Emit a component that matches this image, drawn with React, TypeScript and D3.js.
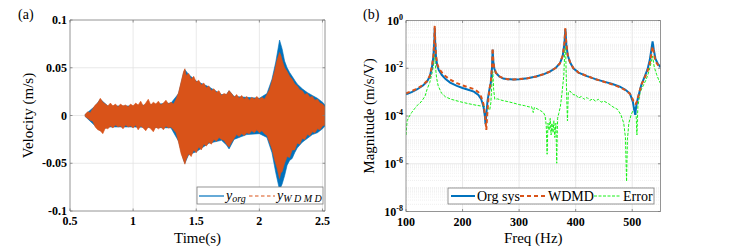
import React from "react";
import * as d3 from "d3";

// ---------- Panel (a): time response envelopes ----------
const timeWdmd = [0.62,0.64,0.66,0.68,0.70,0.72,0.74,0.76,0.78,0.80,0.82,0.84,0.86,0.88,0.90,0.92,0.94,0.96,0.98,1.00,1.02,1.04,1.06,1.08,1.10,1.12,1.14,1.16,1.18,1.20,1.22,1.24,1.26,1.28,1.30,1.32,1.34,1.36,1.38,1.40,1.41,1.42,1.44,1.46,1.48,1.50,1.52,1.54,1.56,1.58,1.60,1.62,1.64,1.66,1.68,1.70,1.72,1.74,1.76,1.78,1.80,1.82,1.84,1.86,1.88,1.90,1.92,1.94,1.96,1.98,2.00,2.02,2.04,2.06,2.08,2.10,2.12,2.14,2.16,2.17,2.18,2.20,2.22,2.24,2.26,2.28,2.30,2.32,2.34,2.36,2.38,2.40,2.42,2.44,2.46,2.48,2.50,2.52];
const wdmdUpper = [0.001,0.004,0.003,0.007,0.011,0.013,0.018,0.014,0.012,0.010,0.013,0.010,0.012,0.009,0.012,0.010,0.011,0.009,0.012,0.010,0.013,0.011,0.015,0.010,0.013,0.017,0.011,0.014,0.012,0.015,0.011,0.013,0.016,0.012,0.014,0.012,0.017,0.024,0.035,0.046,0.049,0.042,0.044,0.038,0.041,0.035,0.037,0.032,0.034,0.029,0.031,0.026,0.028,0.024,0.026,0.021,0.023,0.022,0.026,0.023,0.019,0.022,0.018,0.021,0.017,0.020,0.016,0.019,0.017,0.020,0.017,0.019,0.017,0.022,0.027,0.036,0.046,0.058,0.066,0.063,0.058,0.050,0.046,0.041,0.038,0.033,0.031,0.027,0.026,0.022,0.023,0.019,0.020,0.016,0.017,0.013,0.012,0.009];
const wdmdLower = [-0.001,-0.003,-0.005,-0.006,-0.012,-0.015,-0.016,-0.019,-0.013,-0.014,-0.011,-0.013,-0.010,-0.012,-0.011,-0.014,-0.010,-0.012,-0.011,-0.013,-0.010,-0.015,-0.011,-0.013,-0.016,-0.012,-0.014,-0.017,-0.012,-0.014,-0.012,-0.015,-0.011,-0.013,-0.012,-0.015,-0.018,-0.028,-0.040,-0.047,-0.051,-0.046,-0.040,-0.043,-0.036,-0.039,-0.033,-0.036,-0.030,-0.032,-0.028,-0.030,-0.025,-0.027,-0.023,-0.025,-0.026,-0.030,-0.033,-0.028,-0.024,-0.020,-0.022,-0.019,-0.021,-0.018,-0.019,-0.016,-0.018,-0.015,-0.018,-0.016,-0.019,-0.021,-0.028,-0.035,-0.046,-0.055,-0.066,-0.060,-0.059,-0.050,-0.043,-0.044,-0.036,-0.036,-0.029,-0.030,-0.024,-0.025,-0.020,-0.021,-0.017,-0.018,-0.014,-0.015,-0.011,-0.010];
const timeOrg = [0.62,0.70,0.74,0.80,1.00,1.30,1.36,1.40,1.41,1.44,1.50,1.60,1.70,1.74,1.76,1.80,1.90,2.00,2.06,2.10,2.13,2.16,2.18,2.20,2.22,2.24,2.26,2.28,2.30,2.34,2.38,2.42,2.46,2.50,2.52];
const orgUpper = [0.001,0.010,0.017,0.010,0.010,0.013,0.023,0.045,0.048,0.043,0.036,0.030,0.022,0.022,0.026,0.020,0.019,0.018,0.023,0.038,0.056,0.079,0.070,0.057,0.050,0.045,0.041,0.037,0.033,0.028,0.024,0.021,0.018,0.014,0.011];
const orgLower = [-0.001,-0.011,-0.016,-0.012,-0.012,-0.013,-0.027,-0.047,-0.050,-0.041,-0.038,-0.029,-0.026,-0.031,-0.035,-0.025,-0.020,-0.019,-0.023,-0.039,-0.060,-0.078,-0.072,-0.063,-0.052,-0.047,-0.045,-0.039,-0.034,-0.028,-0.024,-0.020,-0.018,-0.014,-0.011];
const timeTicks = [0.5, 1, 1.5, 2, 2.5];
const velTicks = [-0.1, -0.05, 0, 0.05, 0.1];

// ---------- Panel (b): FRF magnitudes ----------
const freqOrg = [100,110,120,130,137,142,146,148.5,150,150.8,151.6,153,155,158,163.5,170,178,190,200,210,220,228,233,237,239.5,240.6,241.8,244,247,250,252,253.2,254.3,256,259,265,272,280,290,300,315,330,345,355,365,372,377,380,381.8,383.5,386,390,396,405,420,435,450,465,478,488,496,501,504,505.3,507,510,516,522,527,531,534,536,538,541,545,550];
const magOrg = [8.1e-4,1.0e-3,1.32e-3,1.9e-3,2.75e-3,4.5e-3,1.12e-2,3.2e-2,1.26e-1,5.0e-1,1.26e-1,3.2e-2,1.38e-2,8.3e-3,5.2e-3,3.5e-3,2.5e-3,1.82e-3,1.48e-3,1.26e-3,1.05e-3,7.6e-4,5.0e-4,2.5e-4,1.0e-4,4.5e-5,1.0e-4,4.0e-4,1.12e-3,2.5e-3,1.0e-2,6.0e-2,2.0e-2,1.0e-2,6.3e-3,4.5e-3,3.7e-3,3.5e-3,3.4e-3,3.5e-3,3.8e-3,4.5e-3,5.8e-3,7.4e-3,1.05e-2,1.58e-2,3.2e-2,1.0e-1,4.4e-1,1.0e-1,3.5e-2,1.78e-2,1.0e-2,6.6e-3,4.7e-3,3.5e-3,2.75e-3,2.2e-3,1.7e-3,1.26e-3,8.7e-4,4.0e-4,1.6e-4,1.12e-4,2.5e-4,5.6e-4,2.0e-3,4.5e-3,8.9e-3,2.2e-2,6.3e-2,1.32e-1,6.3e-2,2.5e-2,1.58e-2,1.12e-2];
const freqWdmd = [100,110,120,130,137,142,146,148.5,150,150.8,151.6,153,155,158,163.5,170,178,190,200,210,220,228,233,237,240,242,243.5,246,248,250,252,253.2,254.3,256,259,265,272,280,290,300,315,330,345,355,365,372,377,380,381.8,383.5,386,390,396,405,420,435,450,465,478,488,496,501,503,506,508,511,516,522,527,531,534,536,538,541,545,550];
const magWdmd = [8.9e-4,1.1e-3,1.4e-3,2.0e-3,2.9e-3,4.8e-3,1.26e-2,3.5e-2,1.4e-1,6.0e-1,1.4e-1,3.5e-2,1.58e-2,1.0e-2,6.6e-3,4.6e-3,3.3e-3,2.4e-3,1.9e-3,1.6e-3,1.35e-3,1.0e-3,6.3e-4,3.2e-4,1.0e-4,2.6e-5,1.0e-4,6.3e-4,1.5e-3,2.8e-3,1.1e-2,7.0e-2,2.2e-2,1.05e-2,6.5e-3,4.6e-3,3.8e-3,3.5e-3,3.4e-3,3.5e-3,3.8e-3,4.5e-3,5.8e-3,7.4e-3,1.05e-2,1.6e-2,3.3e-2,1.05e-1,4.8e-1,1.05e-1,3.6e-2,1.8e-2,1.0e-2,6.6e-3,4.7e-3,3.5e-3,2.7e-3,2.1e-3,1.6e-3,1.2e-3,8.5e-4,5.0e-4,3.5e-4,3.2e-4,4.0e-4,7.0e-4,2.0e-3,4.0e-3,7.5e-3,1.6e-2,4.0e-2,8.1e-2,4.5e-2,2.0e-2,1.4e-2,1.05e-2];
const freqErr = [100,102,105,110,115,120,125,130,134,137,142,146,148.5,150.8,152,154,157,163,170,180,195,210,225,238,244,248,250,252,253.5,255,257,262,270,280,290,300,310,318,322,325,327,332,338,343,346,348,349.5,351,353,355,356.5,358,360,361.5,363,365,366.5,368,370,373,376,379,381.8,383,384.5,385.5,387,390,393,397,400,405,410,415,420,425,430,435,440,445,450,458,466,474,480,485,488,490,491.5,494,498,502,505,507,508.3,510,514,520,525,530,533,536,539,543,547,550];
const magErr = [1.6e-5,6.3e-5,8.9e-5,1.4e-4,2.0e-4,2.8e-4,3.5e-4,5.0e-4,7.1e-4,1.26e-3,2.5e-3,6.3e-3,1.26e-2,3.8e-2,1.26e-2,4.0e-3,1.8e-3,8.9e-4,6.3e-4,5.0e-4,4.0e-4,3.3e-4,2.8e-4,2.5e-4,2.2e-4,1.8e-4,3.5e-4,2.5e-3,7.2e-3,1.26e-3,5.0e-4,5.2e-4,4.5e-4,4.0e-4,3.5e-4,3.0e-4,2.7e-4,2.4e-4,2.5e-4,1.4e-4,2.3e-4,2.0e-4,1.66e-4,1.4e-4,1.0e-4,4.0e-5,2.5e-6,5.0e-5,2.5e-5,7.9e-5,1.6e-5,5.0e-5,2.0e-5,6.3e-5,1.26e-5,5.0e-5,1.05e-6,7.9e-5,1.26e-4,2.5e-4,1.0e-3,5.0e-3,2.1e-1,1.0e-2,3.2e-4,6.3e-5,1.0e-3,1.12e-3,8.9e-4,7.6e-4,7.9e-4,5.6e-4,6.6e-4,5.0e-4,6.0e-4,4.5e-4,5.2e-4,4.2e-4,5.0e-4,3.8e-4,4.2e-4,3.3e-4,2.4e-4,1.9e-4,1.12e-4,5.0e-5,1.26e-5,1.8e-7,1.0e-5,5.0e-5,1.12e-4,1.8e-4,2.5e-4,1.0e-4,1.6e-5,2.5e-4,1.0e-3,2.0e-3,3.5e-3,7.9e-3,1.6e-2,3.2e-2,1.12e-2,5.6e-3,3.2e-3,2.3e-3];
const freqTicks = [100, 200, 300, 400, 500];
const magTickExps = [0, -2, -4, -6, -8];

const BLUE = "#0072BD";
const ORANGE = "#D95319";
const GREEN = "#18F018";
const FONT = "Liberation Serif";
const AXC = "#7a7a7a";
const GRID = "#e3e3e3";
const ts: React.CSSProperties = { fontFamily: FONT };

export default function App() {
  // panel a
  const ax = { l: 70, r: 325, t: 20, b: 211 };
  const xA = d3.scaleLinear().domain([0.5, 2.52]).range([ax.l, ax.r]);
  const yA = d3.scaleLinear().domain([-0.1, 0.1]).range([ax.b, ax.t]);
  const areaOrg = d3.area<number>().x(i => xA(timeOrg[i])).y0(i => yA(orgLower[i])).y1(i => yA(orgUpper[i]));
  const areaWdmd = d3.area<number>().x(i => xA(timeWdmd[i])).y0(i => yA(wdmdLower[i])).y1(i => yA(wdmdUpper[i]));

  // panel b
  const bx = { l: 406, r: 660.5, t: 20.5, b: 211.5 };
  const xB = d3.scaleLinear().domain([100, 550]).range([bx.l, bx.r]);
  const yB = d3.scaleLog().domain([1e-8, 1]).range([bx.b, bx.t]);
  const lineB = (fs: number[], ms: number[]) =>
    d3.line<number>().x(i => xB(fs[i])).y(i => yB(ms[i]))(d3.range(fs.length)) || "";
  const minorB: number[] = [];
  for (let e = -8; e < 0; e++) for (let k = 1; k < 10; k++) {
    const v = k * Math.pow(10, e);
    if (!(k === 1 && e % 2 === 0)) minorB.push(v);
  }

  return (
    <svg width={734} height={248} style={{ position: "absolute", left: 0, top: 0, background: "#fff", fontFamily: FONT }}>
      <defs>
        <clipPath id="clipA"><rect x={ax.l} y={ax.t} width={ax.r - ax.l} height={ax.b - ax.t} /></clipPath>
        <clipPath id="clipB"><rect x={bx.l} y={bx.t} width={bx.r - bx.l} height={bx.b - bx.t} /></clipPath>
      </defs>

      {/* ===== Panel (a) ===== */}
      <text x={18} y={19} fontSize={14} style={ts}>(a)</text>
      {timeTicks.slice(1).map(t => (
        <line key={"gx" + t} x1={xA(t)} x2={xA(t)} y1={ax.t} y2={ax.b} stroke={GRID} strokeWidth={0.8} />
      ))}
      {velTicks.slice(1, -1).map(v => (
        <line key={"gy" + v} x1={ax.l} x2={ax.r} y1={yA(v)} y2={yA(v)} stroke={GRID} strokeWidth={0.8} />
      ))}
      <g clipPath="url(#clipA)">
        <path d={areaOrg(d3.range(timeOrg.length)) || ""} fill={BLUE} stroke={BLUE} strokeWidth={0.6} />
        <path d={areaWdmd(d3.range(timeWdmd.length)) || ""} fill={ORANGE} stroke={ORANGE} strokeWidth={0.6} />
      </g>
      <path d={`M${ax.l},${ax.t}H${ax.r}V${ax.b}H${ax.l}Z`} fill="none" stroke={AXC} strokeWidth={0.8} />
      {timeTicks.map(t => (
        <g key={"tx" + t}>
          <line x1={xA(t)} x2={xA(t)} y1={ax.b} y2={ax.b - 2.5} stroke={AXC} strokeWidth={0.8} />
          <line x1={xA(t)} x2={xA(t)} y1={ax.t} y2={ax.t + 2.5} stroke={AXC} strokeWidth={0.8} />
          <text x={xA(t)} y={ax.b + 14} textAnchor="middle" fontSize={12} fontWeight="bold" style={ts}>{String(t)}</text>
        </g>
      ))}
      {velTicks.map(v => (
        <g key={"ty" + v}>
          <line x1={ax.l} x2={ax.l + 2.5} y1={yA(v)} y2={yA(v)} stroke={AXC} strokeWidth={0.8} />
          <line x1={ax.r} x2={ax.r - 2.5} y1={yA(v)} y2={yA(v)} stroke={AXC} strokeWidth={0.8} />
          <text x={ax.l - 3} y={yA(v) + 4} textAnchor="end" fontSize={12} fontWeight="bold" style={ts}>{String(v)}</text>
        </g>
      ))}
      <text x={(ax.l + ax.r) / 2} y={243} textAnchor="middle" fontSize={15} style={ts}>Time(s)</text>
      <text transform={`translate(33,${(ax.t + ax.b) / 2}) rotate(-90)`} textAnchor="middle" fontSize={15} style={ts}>Velocity (m/s)</text>
      {/* legend a */}
      <rect x={197} y={187} width={126} height={17} fill="#fff" stroke={AXC} strokeWidth={0.8} />
      <line x1={199} x2={224} y1={196} y2={196} stroke={BLUE} strokeWidth={1.2} />
      <text x={226} y={199.5} fontSize={14} fontStyle="italic" style={ts}>y<tspan fontSize={10} dy={2}>org</tspan></text>
      <line x1={249} x2={275} y1={196} y2={196} stroke={ORANGE} strokeWidth={1.2} strokeDasharray="3.5,2.5" />
      <text x={277} y={199.5} fontSize={14} fontStyle="italic" style={ts}>y<tspan fontSize={10} dy={2}>W D M D</tspan></text>

      {/* ===== Panel (b) ===== */}
      <text x={363} y={19} fontSize={14} style={ts}>(b)</text>
      {minorB.map((v, i) => (
        <line key={"mg" + i} x1={bx.l} x2={bx.r} y1={yB(v)} y2={yB(v)} stroke="#e6e6e6" strokeWidth={0.6} strokeDasharray="1,1" />
      ))}
      {freqTicks.slice(1).map(f => (
        <line key={"gbx" + f} x1={xB(f)} x2={xB(f)} y1={bx.t} y2={bx.b} stroke={GRID} strokeWidth={0.8} />
      ))}
      {magTickExps.slice(1, -1).map(e => (
        <line key={"gby" + e} x1={bx.l} x2={bx.r} y1={yB(Math.pow(10, e))} y2={yB(Math.pow(10, e))} stroke={GRID} strokeWidth={0.8} />
      ))}
      <g clipPath="url(#clipB)">
        <path d={lineB(freqErr, magErr)} fill="none" stroke={GREEN} strokeWidth={1} strokeDasharray="3,1.5" />
        <path d={lineB(freqOrg, magOrg)} fill="none" stroke={BLUE} strokeWidth={2} />
        <path d={lineB(freqWdmd, magWdmd)} fill="none" stroke={ORANGE} strokeWidth={2} strokeDasharray="4,3" />
      </g>
      <path d={`M${bx.l},${bx.t}H${bx.r}V${bx.b}H${bx.l}Z`} fill="none" stroke={AXC} strokeWidth={0.8} />
      {freqTicks.map(f => (
        <g key={"fx" + f}>
          <line x1={xB(f)} x2={xB(f)} y1={bx.b} y2={bx.b - 2.5} stroke={AXC} strokeWidth={0.8} />
          <line x1={xB(f)} x2={xB(f)} y1={bx.t} y2={bx.t + 2.5} stroke={AXC} strokeWidth={0.8} />
          <text x={xB(f)} y={bx.b + 14} textAnchor="middle" fontSize={12} fontWeight="bold" style={ts}>{String(f)}</text>
        </g>
      ))}
      {magTickExps.map(e => (
        <g key={"fy" + e}>
          <line x1={bx.l} x2={bx.l + 2.5} y1={yB(Math.pow(10, e))} y2={yB(Math.pow(10, e))} stroke={AXC} strokeWidth={0.8} />
          <line x1={bx.r} x2={bx.r - 2.5} y1={yB(Math.pow(10, e))} y2={yB(Math.pow(10, e))} stroke={AXC} strokeWidth={0.8} />
          <text x={bx.l - 3} y={yB(Math.pow(10, e)) + 4} textAnchor="end" fontSize={12} fontWeight="bold" style={ts}>10<tspan fontSize={8} dy={-5}>{String(e)}</tspan></text>
        </g>
      ))}
      <text x={(bx.l + bx.r) / 2} y={243} textAnchor="middle" fontSize={15} style={ts}>Freq (Hz)</text>
      <text transform={`translate(374,${(bx.t + bx.b) / 2}) rotate(-90)`} textAnchor="middle" fontSize={15} style={ts}>Magnitude (m/s/V)</text>
      {/* legend b */}
      <rect x={448} y={188} width={206} height={16} fill="#fff" stroke={AXC} strokeWidth={0.8} />
      <line x1={451} x2={475} y1={196} y2={196} stroke={BLUE} strokeWidth={2} />
      <text x={477} y={200.5} fontSize={14} style={ts}>Org sys</text>
      <line x1={520} x2={546} y1={196} y2={196} stroke={ORANGE} strokeWidth={2} strokeDasharray="4,3" />
      <text x={548} y={200.5} fontSize={14} style={ts}>WDMD</text>
      <line x1={594} x2={621} y1={196} y2={196} stroke={GREEN} strokeWidth={1} strokeDasharray="3,1.5" />
      <text x={623} y={200.5} fontSize={14} style={ts}>Error</text>
    </svg>
  );
}
